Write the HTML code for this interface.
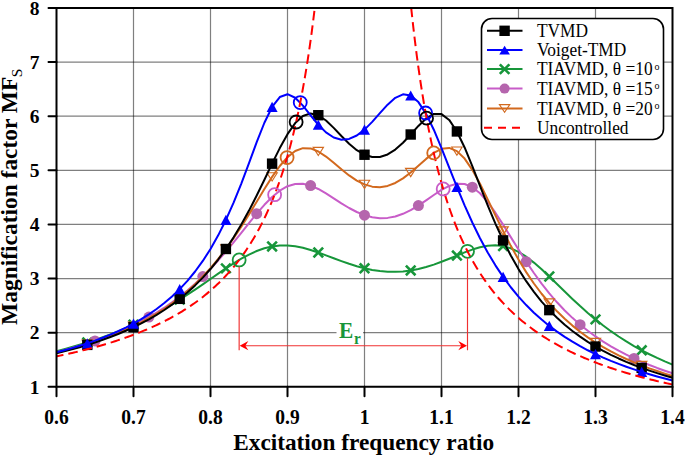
<!DOCTYPE html><html><head><meta charset="utf-8"><style>html,body{margin:0;padding:0;background:#fff;width:685px;height:456px;overflow:hidden}svg{display:block}text{font-family:"Liberation Serif",serif}</style></head><body>
<svg width="685" height="456" viewBox="0 0 685 456">
<path d="M133.50,8.00 V386.77 M210.50,8.00 V386.77 M287.50,8.00 V386.77 M364.50,8.00 V386.77 M441.50,8.00 V386.77 M518.50,8.00 V386.77 M595.50,8.00 V386.77" stroke="#000" stroke-opacity="0.5" stroke-width="1.2" fill="none"/>
<path d="M56.50,332.66 H672.50 M56.50,278.55 H672.50 M56.50,224.44 H672.50 M56.50,170.33 H672.50 M56.50,116.22 H672.50 M56.50,62.11 H672.50" stroke="#000" stroke-opacity="0.5" stroke-width="1.2" fill="none"/>
<defs><clipPath id="pc"><rect x="56.50" y="8.00" width="616.00" height="378.77"/></clipPath></defs>
<path d="M56.50,351.13 L64.20,349.13 L71.90,347.01 L79.60,344.77 L87.30,342.39 L95.00,339.86 L102.70,337.18 L110.40,334.34 L118.10,331.31 L125.80,328.10 L133.50,324.70 L141.20,321.08 L148.90,317.24 L156.60,313.18 L164.30,308.89 L172.00,304.38 L179.70,299.64 L187.40,294.70 L195.10,289.57 L202.80,284.31 L210.50,278.98 L218.20,273.64 L225.90,268.40 L233.60,263.37 L241.30,258.70 L249.00,254.54 L256.70,251.02 L264.40,248.28 L272.10,246.41 L279.80,245.46 L287.50,245.43 L295.20,246.24 L302.90,247.79 L310.60,249.93 L318.30,252.50 L326.00,255.33 L333.70,258.24 L341.40,261.11 L349.10,263.80 L356.80,266.22 L364.50,268.27 L372.20,269.90 L379.90,271.05 L387.60,271.70 L395.30,271.83 L403.00,271.41 L410.70,270.46 L418.40,268.98 L426.10,267.01 L433.80,264.59 L441.50,261.80 L449.20,258.74 L456.90,255.56 L464.60,252.43 L472.30,249.58 L480.00,247.26 L487.70,245.76 L495.40,245.31 L503.10,246.13 L510.80,248.32 L518.50,251.88 L526.20,256.71 L533.90,262.60 L541.60,269.29 L549.30,276.50 L557.00,283.98 L564.70,291.51 L572.40,298.91 L580.10,306.08 L587.80,312.92 L595.50,319.40 L603.20,325.48 L610.90,331.18 L618.60,336.48 L626.30,341.42 L634.00,346.02 L641.70,350.29 L649.40,354.25 L657.10,357.94 L664.80,361.38 L672.50,364.58" stroke="#17963a" fill="none" stroke-width="2" stroke-linejoin="round" clip-path="url(#pc)"/>
<path d="M82.50,337.59 L92.10,347.19 M82.50,347.19 L92.10,337.59" stroke="#17963a" stroke-width="2.6" fill="none"/>
<path d="M128.70,319.90 L138.30,329.50 M128.70,329.50 L138.30,319.90" stroke="#17963a" stroke-width="2.6" fill="none"/>
<path d="M174.90,294.84 L184.50,304.44 M174.90,304.44 L184.50,294.84" stroke="#17963a" stroke-width="2.6" fill="none"/>
<path d="M221.10,263.60 L230.70,273.20 M221.10,273.20 L230.70,263.60" stroke="#17963a" stroke-width="2.6" fill="none"/>
<path d="M267.30,241.61 L276.90,251.21 M267.30,251.21 L276.90,241.61" stroke="#17963a" stroke-width="2.6" fill="none"/>
<path d="M313.50,247.70 L323.10,257.30 M313.50,257.30 L323.10,247.70" stroke="#17963a" stroke-width="2.6" fill="none"/>
<path d="M359.70,263.47 L369.30,273.07 M359.70,273.07 L369.30,263.47" stroke="#17963a" stroke-width="2.6" fill="none"/>
<path d="M405.90,265.66 L415.50,275.26 M405.90,275.26 L415.50,265.66" stroke="#17963a" stroke-width="2.6" fill="none"/>
<path d="M452.10,250.76 L461.70,260.36 M452.10,260.36 L461.70,250.76" stroke="#17963a" stroke-width="2.6" fill="none"/>
<path d="M498.30,241.33 L507.90,250.93 M498.30,250.93 L507.90,241.33" stroke="#17963a" stroke-width="2.6" fill="none"/>
<path d="M544.50,271.70 L554.10,281.30 M544.50,281.30 L554.10,271.70" stroke="#17963a" stroke-width="2.6" fill="none"/>
<path d="M590.70,314.60 L600.30,324.20 M590.70,324.20 L600.30,314.60" stroke="#17963a" stroke-width="2.6" fill="none"/>
<path d="M636.90,345.49 L646.50,355.09 M636.90,355.09 L646.50,345.49" stroke="#17963a" stroke-width="2.6" fill="none"/>
<path d="M56.50,352.13 L64.20,350.15 L71.90,348.05 L79.60,345.82 L87.30,343.43 L95.00,340.89 L102.70,338.17 L110.40,335.26 L118.10,332.14 L125.80,328.79 L133.50,325.18 L141.20,321.30 L148.90,317.11 L156.60,312.59 L164.30,307.70 L172.00,302.41 L179.70,296.68 L187.40,290.49 L195.10,283.78 L202.80,276.55 L210.50,268.77 L218.20,260.45 L225.90,251.61 L233.60,242.34 L241.30,232.77 L249.00,223.11 L256.70,213.66 L264.40,204.80 L272.10,196.98 L279.80,190.66 L287.50,186.24 L295.20,183.95 L302.90,183.81 L310.60,185.62 L318.30,188.98 L326.00,193.39 L333.70,198.34 L341.40,203.35 L349.10,208.00 L356.80,212.01 L364.50,215.13 L372.20,217.21 L379.90,218.15 L387.60,217.89 L395.30,216.44 L403.00,213.82 L410.70,210.13 L418.40,205.55 L426.10,200.36 L433.80,194.97 L441.50,189.94 L449.20,185.96 L456.90,183.76 L464.60,184.03 L472.30,187.18 L480.00,193.28 L487.70,201.99 L495.40,212.69 L503.10,224.63 L510.80,237.12 L518.50,249.58 L526.20,261.63 L533.90,273.01 L541.60,283.59 L549.30,293.35 L557.00,302.28 L564.70,310.44 L572.40,317.87 L580.10,324.64 L587.80,330.81 L595.50,336.45 L603.20,341.61 L610.90,346.35 L618.60,350.69 L626.30,354.70 L634.00,358.40 L641.70,361.82 L649.40,364.99 L657.10,367.94 L664.80,370.69 L672.50,373.26" stroke="#c85cc8" fill="none" stroke-width="2" stroke-linejoin="round" clip-path="url(#pc)"/>
<circle cx="95.00" cy="340.89" r="5.50" fill="#b565ad"/>
<circle cx="148.90" cy="317.11" r="5.50" fill="#b565ad"/>
<circle cx="202.80" cy="276.55" r="5.50" fill="#b565ad"/>
<circle cx="256.70" cy="213.66" r="5.50" fill="#b565ad"/>
<circle cx="310.60" cy="185.62" r="5.50" fill="#b565ad"/>
<circle cx="364.50" cy="215.13" r="5.50" fill="#b565ad"/>
<circle cx="418.40" cy="205.55" r="5.50" fill="#b565ad"/>
<circle cx="472.30" cy="187.18" r="5.50" fill="#b565ad"/>
<circle cx="526.20" cy="261.63" r="5.50" fill="#b565ad"/>
<circle cx="580.10" cy="324.64" r="5.50" fill="#b565ad"/>
<circle cx="634.00" cy="358.40" r="5.50" fill="#b565ad"/>
<path d="M56.50,352.74 L64.20,350.81 L71.90,348.75 L79.60,346.55 L87.30,344.21 L95.00,341.72 L102.70,339.04 L110.40,336.18 L118.10,333.10 L125.80,329.79 L133.50,326.22 L141.20,322.36 L148.90,318.19 L156.60,313.66 L164.30,308.74 L172.00,303.38 L179.70,297.53 L187.40,291.14 L195.10,284.15 L202.80,276.50 L210.50,268.12 L218.20,258.97 L225.90,249.00 L233.60,238.21 L241.30,226.63 L249.00,214.39 L256.70,201.73 L264.40,189.04 L272.10,176.88 L279.80,165.98 L287.50,157.13 L295.20,151.04 L302.90,148.13 L310.60,148.42 L318.30,151.48 L326.00,156.57 L333.70,162.79 L341.40,169.31 L349.10,175.42 L356.80,180.57 L364.50,184.39 L372.20,186.63 L379.90,187.16 L387.60,185.93 L395.30,182.96 L403.00,178.40 L410.70,172.51 L418.40,165.77 L426.10,158.89 L433.80,152.84 L441.50,148.80 L449.20,147.95 L456.90,151.14 L464.60,158.59 L472.30,169.81 L480.00,183.80 L487.70,199.33 L495.40,215.34 L503.10,231.01 L510.80,245.85 L518.50,259.58 L526.20,272.13 L533.90,283.49 L541.60,293.75 L549.30,302.99 L557.00,311.31 L564.70,318.82 L572.40,325.61 L580.10,331.77 L587.80,337.37 L595.50,342.47 L603.20,347.14 L610.90,351.42 L618.60,355.35 L626.30,358.99 L634.00,362.35 L641.70,365.46 L649.40,368.36 L657.10,371.06 L664.80,373.58 L672.50,375.93" stroke="#d2691e" fill="none" stroke-width="2" stroke-linejoin="round" clip-path="url(#pc)"/>
<path d="M82.10,340.11 L92.50,340.11 L87.30,348.31 Z" fill="none" stroke="#d2691e" stroke-width="1.1"/>
<path d="M128.30,322.12 L138.70,322.12 L133.50,330.32 Z" fill="none" stroke="#d2691e" stroke-width="1.1"/>
<path d="M174.50,293.43 L184.90,293.43 L179.70,301.63 Z" fill="none" stroke="#d2691e" stroke-width="1.1"/>
<path d="M220.70,244.90 L231.10,244.90 L225.90,253.10 Z" fill="none" stroke="#d2691e" stroke-width="1.1"/>
<path d="M266.90,172.78 L277.30,172.78 L272.10,180.98 Z" fill="none" stroke="#d2691e" stroke-width="1.1"/>
<path d="M313.10,147.38 L323.50,147.38 L318.30,155.58 Z" fill="none" stroke="#d2691e" stroke-width="1.1"/>
<path d="M359.30,180.29 L369.70,180.29 L364.50,188.49 Z" fill="none" stroke="#d2691e" stroke-width="1.1"/>
<path d="M405.50,168.41 L415.90,168.41 L410.70,176.61 Z" fill="none" stroke="#d2691e" stroke-width="1.1"/>
<path d="M451.70,147.04 L462.10,147.04 L456.90,155.24 Z" fill="none" stroke="#d2691e" stroke-width="1.1"/>
<path d="M497.90,226.91 L508.30,226.91 L503.10,235.11 Z" fill="none" stroke="#d2691e" stroke-width="1.1"/>
<path d="M544.10,298.89 L554.50,298.89 L549.30,307.09 Z" fill="none" stroke="#d2691e" stroke-width="1.1"/>
<path d="M590.30,338.37 L600.70,338.37 L595.50,346.57 Z" fill="none" stroke="#d2691e" stroke-width="1.1"/>
<path d="M636.50,361.36 L646.90,361.36 L641.70,369.56 Z" fill="none" stroke="#d2691e" stroke-width="1.1"/>
<path d="M56.50,353.25 L64.20,351.35 L71.90,349.34 L79.60,347.19 L87.30,344.89 L95.00,342.44 L102.70,339.82 L110.40,337.01 L118.10,333.99 L125.80,330.74 L133.50,327.24 L141.20,323.44 L148.90,319.33 L156.60,314.86 L164.30,310.00 L172.00,304.68 L179.70,298.85 L187.40,292.45 L195.10,285.40 L202.80,277.62 L210.50,269.03 L218.20,259.51 L225.90,248.98 L233.60,237.35 L241.30,224.55 L249.00,210.60 L256.70,195.58 L264.40,179.77 L272.10,163.67 L279.80,148.10 L287.50,134.15 L295.20,123.08 L302.90,115.97 L310.60,113.42 L318.30,115.22 L326.00,120.48 L333.70,127.86 L341.40,136.00 L349.10,143.73 L356.80,150.17 L364.50,154.73 L372.20,157.06 L379.90,156.97 L387.60,154.43 L395.30,149.57 L403.00,142.72 L410.70,134.50 L418.40,125.93 L426.10,118.49 L433.80,113.96 L441.50,114.08 L449.20,119.93 L456.90,131.45 L464.60,147.45 L472.30,166.18 L480.00,185.90 L487.70,205.32 L495.40,223.61 L503.10,240.39 L510.80,255.53 L518.50,269.09 L526.20,281.18 L533.90,291.95 L541.60,301.55 L549.30,310.13 L557.00,317.83 L564.70,324.76 L572.40,331.01 L580.10,336.68 L587.80,341.84 L595.50,346.54 L603.20,350.86 L610.90,354.82 L618.60,358.47 L626.30,361.84 L634.00,364.97 L641.70,367.88 L649.40,370.59 L657.10,373.12 L664.80,375.48 L672.50,377.70" stroke="#000" fill="none" stroke-width="2" stroke-linejoin="round" clip-path="url(#pc)"/>
<rect x="82.10" y="339.69" width="10.40" height="10.40" fill="#000"/>
<rect x="128.30" y="322.04" width="10.40" height="10.40" fill="#000"/>
<rect x="174.50" y="293.65" width="10.40" height="10.40" fill="#000"/>
<rect x="220.70" y="243.78" width="10.40" height="10.40" fill="#000"/>
<rect x="266.90" y="158.47" width="10.40" height="10.40" fill="#000"/>
<rect x="313.10" y="110.02" width="10.40" height="10.40" fill="#000"/>
<rect x="359.30" y="149.53" width="10.40" height="10.40" fill="#000"/>
<rect x="405.50" y="129.30" width="10.40" height="10.40" fill="#000"/>
<rect x="451.70" y="126.25" width="10.40" height="10.40" fill="#000"/>
<rect x="497.90" y="235.19" width="10.40" height="10.40" fill="#000"/>
<rect x="544.10" y="304.93" width="10.40" height="10.40" fill="#000"/>
<rect x="590.30" y="341.34" width="10.40" height="10.40" fill="#000"/>
<rect x="636.50" y="362.68" width="10.40" height="10.40" fill="#000"/>
<path d="M56.50,352.32 L64.20,350.30 L71.90,348.14 L79.60,345.82 L87.30,343.33 L95.00,340.66 L102.70,337.77 L110.40,334.65 L118.10,331.27 L125.80,327.59 L133.50,323.57 L141.20,319.17 L148.90,314.34 L156.60,309.00 L164.30,303.08 L172.00,296.49 L179.70,289.12 L187.40,280.85 L195.10,271.51 L202.80,260.95 L210.50,248.96 L218.20,235.35 L225.90,219.94 L233.60,202.64 L241.30,183.53 L249.00,163.06 L256.70,142.22 L264.40,122.75 L272.10,106.95 L279.80,97.06 L287.50,94.20 L295.20,97.74 L302.90,105.63 L310.60,115.35 L318.30,124.75 L326.00,132.40 L333.70,137.49 L341.40,139.69 L349.10,138.96 L356.80,135.48 L364.50,129.59 L372.20,121.87 L379.90,113.17 L387.60,104.66 L395.30,97.83 L403.00,94.31 L410.70,95.50 L418.40,102.10 L426.10,113.87 L433.80,129.71 L441.50,148.09 L449.20,167.54 L456.90,186.88 L464.60,205.34 L472.30,222.53 L480.00,238.25 L487.70,252.49 L495.40,265.33 L503.10,276.88 L510.80,287.26 L518.50,296.61 L526.20,305.05 L533.90,312.68 L541.60,319.60 L549.30,325.90 L557.00,331.64 L564.70,336.90 L572.40,341.72 L580.10,346.16 L587.80,350.26 L595.50,354.05 L603.20,357.57 L610.90,360.84 L618.60,363.89 L626.30,366.73 L634.00,369.40 L641.70,371.90 L649.40,374.24 L657.10,376.45 L664.80,378.53 L672.50,380.49" stroke="#0000ff" fill="none" stroke-width="2" stroke-linejoin="round" clip-path="url(#pc)"/>
<path d="M87.30,338.23 L92.80,348.43 L81.80,348.43 Z" fill="#0000ff"/>
<path d="M133.50,318.47 L139.00,328.67 L128.00,328.67 Z" fill="#0000ff"/>
<path d="M179.70,284.02 L185.20,294.22 L174.20,294.22 Z" fill="#0000ff"/>
<path d="M225.90,214.84 L231.40,225.04 L220.40,225.04 Z" fill="#0000ff"/>
<path d="M272.10,101.85 L277.60,112.05 L266.60,112.05 Z" fill="#0000ff"/>
<path d="M318.30,119.65 L323.80,129.85 L312.80,129.85 Z" fill="#0000ff"/>
<path d="M364.50,124.49 L370.00,134.69 L359.00,134.69 Z" fill="#0000ff"/>
<path d="M410.70,90.40 L416.20,100.60 L405.20,100.60 Z" fill="#0000ff"/>
<path d="M456.90,181.78 L462.40,191.98 L451.40,191.98 Z" fill="#0000ff"/>
<path d="M503.10,271.78 L508.60,281.98 L497.60,281.98 Z" fill="#0000ff"/>
<path d="M549.30,320.80 L554.80,331.00 L543.80,331.00 Z" fill="#0000ff"/>
<path d="M595.50,348.95 L601.00,359.15 L590.00,359.15 Z" fill="#0000ff"/>
<path d="M641.70,366.80 L647.20,377.00 L636.20,377.00 Z" fill="#0000ff"/>
<path d="M56.50,356.33 L58.25,355.97 L59.99,355.61 L61.74,355.23 L63.48,354.86 L65.23,354.48 L66.97,354.09 L68.72,353.70 L70.47,353.31 L72.21,352.91 L73.96,352.51 L75.70,352.10 L77.45,351.68 L79.19,351.26 L80.94,350.83 L82.68,350.40 L84.43,349.96 L86.18,349.52 L87.92,349.07 L89.67,348.61 L91.41,348.15 L93.16,347.68 L94.90,347.21 L96.65,346.73 L98.40,346.24 L100.14,345.75 L101.89,345.24 L103.63,344.74 L105.38,344.22 L107.12,343.70 L108.87,343.17 L110.62,342.63 L112.36,342.08 L114.11,341.53 L115.85,340.97 L117.60,340.39 L119.34,339.82 L121.09,339.23 L122.84,338.63 L124.58,338.03 L126.33,337.41 L128.07,336.79 L129.82,336.15 L131.56,335.51 L133.31,334.85 L135.05,334.19 L136.80,333.51 L138.55,332.83 L140.29,332.13 L142.04,331.42 L143.78,330.70 L145.53,329.97 L147.27,329.23 L149.02,328.47 L150.77,327.70 L152.51,326.92 L154.26,326.13 L156.00,325.32 L157.75,324.49 L159.49,323.66 L161.24,322.80 L162.99,321.94 L164.73,321.05 L166.48,320.15 L168.22,319.24 L169.97,318.31 L171.71,317.36 L173.46,316.39 L175.21,315.40 L176.95,314.40 L178.70,313.38 L180.44,312.33 L182.19,311.27 L183.93,310.18 L185.68,309.08 L187.42,307.95 L189.17,306.80 L190.92,305.62 L192.66,304.42 L194.41,303.20 L196.15,301.95 L197.90,300.67 L199.64,299.36 L201.39,298.03 L203.14,296.67 L204.88,295.27 L206.63,293.85 L208.37,292.39 L210.12,290.90 L211.86,289.38 L213.61,287.82 L215.36,286.22 L217.10,284.59 L218.85,282.91 L220.59,281.20 L222.34,279.44 L224.08,277.63 L225.83,275.78 L227.58,273.89 L229.32,271.94 L231.07,269.94 L232.81,267.89 L234.56,265.79 L236.30,263.62 L238.05,261.40 L239.79,259.11 L241.54,256.75 L243.29,254.33 L245.03,251.84 L246.78,249.27 L248.52,246.63 L250.27,243.90 L252.01,241.09 L253.76,238.18 L255.51,235.19 L257.25,232.10 L259.00,228.90 L260.74,225.60 L262.49,222.18 L264.23,218.64 L265.98,214.98 L267.73,211.18 L269.47,207.24 L271.22,203.16 L272.96,198.92 L274.71,194.51 L276.45,189.93 L278.20,185.16 L279.94,180.19 L281.69,175.01 L283.44,169.61 L285.18,163.97 L286.93,158.08 L288.67,151.92 L290.42,145.46 L292.16,138.69 L293.91,131.58 L295.66,124.12 L297.40,116.26 L299.15,107.99 L300.89,99.25 L302.64,90.03 L304.38,80.27 L306.13,69.92 L307.88,58.93 L309.62,47.25 L311.37,34.79 L313.11,21.49 L314.86,7.25 L316.60,-8.03 L318.35,-24.47" stroke="#ff0000" stroke-width="2" fill="none" stroke-dasharray="9.6,5" stroke-dashoffset="2.50" clip-path="url(#pc)"/>
<path d="M408.04,-24.47 L409.80,-5.86 L411.56,11.36 L413.33,27.33 L415.09,42.18 L416.85,56.03 L418.62,68.99 L420.38,81.12 L422.14,92.51 L423.90,103.22 L425.67,113.31 L427.43,122.84 L429.19,131.85 L430.96,140.38 L432.72,148.46 L434.48,156.14 L436.25,163.44 L438.01,170.39 L439.77,177.02 L441.54,183.34 L443.30,189.37 L445.06,195.15 L446.82,200.67 L448.59,205.96 L450.35,211.04 L452.11,215.90 L453.88,220.58 L455.64,225.08 L457.40,229.40 L459.17,233.56 L460.93,237.57 L462.69,241.44 L464.46,245.17 L466.22,248.77 L467.98,252.24 L469.74,255.60 L471.51,258.85 L473.27,261.99 L475.03,265.03 L476.80,267.98 L478.56,270.83 L480.32,273.60 L482.09,276.28 L483.85,278.89 L485.61,281.41 L487.38,283.87 L489.14,286.25 L490.90,288.57 L492.66,290.82 L494.43,293.02 L496.19,295.15 L497.95,297.23 L499.72,299.25 L501.48,301.22 L503.24,303.14 L505.01,305.01 L506.77,306.83 L508.53,308.61 L510.30,310.35 L512.06,312.04 L513.82,313.70 L515.59,315.31 L517.35,316.89 L519.11,318.43 L520.87,319.94 L522.64,321.41 L524.40,322.85 L526.16,324.26 L527.93,325.64 L529.69,326.99 L531.45,328.30 L533.22,329.60 L534.98,330.86 L536.74,332.10 L538.51,333.31 L540.27,334.50 L542.03,335.66 L543.79,336.81 L545.56,337.93 L547.32,339.02 L549.08,340.10 L550.85,341.15 L552.61,342.19 L554.37,343.21 L556.14,344.20 L557.90,345.18 L559.66,346.14 L561.43,347.09 L563.19,348.01 L564.95,348.92 L566.71,349.82 L568.48,350.69 L570.24,351.56 L572.00,352.41 L573.77,353.24 L575.53,354.06 L577.29,354.87 L579.06,355.66 L580.82,356.44 L582.58,357.20 L584.35,357.96 L586.11,358.70 L587.87,359.43 L589.63,360.15 L591.40,360.86 L593.16,361.55 L594.92,362.24 L596.69,362.91 L598.45,363.58 L600.21,364.23 L601.98,364.88 L603.74,365.51 L605.50,366.14 L607.27,366.75 L609.03,367.36 L610.79,367.96 L612.55,368.55 L614.32,369.13 L616.08,369.70 L617.84,370.27 L619.61,370.82 L621.37,371.37 L623.13,371.91 L624.90,372.45 L626.66,372.98 L628.42,373.49 L630.19,374.01 L631.95,374.51 L633.71,375.01 L635.48,375.50 L637.24,375.99 L639.00,376.47 L640.76,376.94 L642.53,377.41 L644.29,377.87 L646.05,378.33 L647.82,378.78 L649.58,379.22 L651.34,379.66 L653.11,380.09 L654.87,380.52 L656.63,380.94 L658.40,381.36 L660.16,381.77 L661.92,382.17 L663.68,382.58 L665.45,382.97 L667.21,383.37 L668.97,383.75 L670.74,384.14 L672.50,384.52" stroke="#ff0000" stroke-width="2" fill="none" stroke-dasharray="9.6,5" stroke-dashoffset="11.60" clip-path="url(#pc)"/>
<circle cx="300.24" cy="102.57" r="6.50" fill="none" stroke="#0000ff" stroke-width="1.8"/>
<circle cx="425.61" cy="112.98" r="6.50" fill="none" stroke="#0000ff" stroke-width="1.8"/>
<circle cx="296.14" cy="121.98" r="6.50" fill="none" stroke="#000" stroke-width="1.8"/>
<circle cx="426.55" cy="118.13" r="6.50" fill="none" stroke="#000" stroke-width="1.8"/>
<circle cx="287.08" cy="157.55" r="6.50" fill="none" stroke="#d2691e" stroke-width="1.8"/>
<circle cx="433.73" cy="152.89" r="6.50" fill="none" stroke="#d2691e" stroke-width="1.8"/>
<circle cx="274.63" cy="194.72" r="6.50" fill="none" stroke="#c85cc8" stroke-width="1.8"/>
<circle cx="443.18" cy="188.96" r="6.50" fill="none" stroke="#c85cc8" stroke-width="1.8"/>
<circle cx="239.15" cy="259.97" r="6.50" fill="none" stroke="#17963a" stroke-width="1.8"/>
<circle cx="467.50" cy="251.31" r="6.50" fill="none" stroke="#17963a" stroke-width="1.8"/>
<path d="M239.15,266.47 V350.3 M467.50,257.81 V350.3" stroke="#f03030" stroke-width="1.15" fill="none"/>
<path d="M244.15,345.70 H462.50" stroke="#f03030" stroke-width="1.15"/>
<path d="M239.65,345.70 l8.7,-4.6 l-3,4.6 l3,4.6 Z" fill="#ff0000"/>
<path d="M467.00,345.70 l-8.7,-4.6 l3,4.6 l-3,4.6 Z" fill="#ff0000"/>
<rect x="336.5" y="320" width="26.5" height="25" fill="#fff"/>
<text transform="translate(339.1,338.4) scale(0.9,1)" font-size="23.8" font-weight="bold" fill="#17963a">E<tspan font-size="17" dx="0.8" dy="5.2">r</tspan></text>
<path d="M56.50,8.00 H672.50 V386.77 H56.50 Z" stroke="#000" stroke-width="2" fill="none"/>
<path d="M48.50,386.77 H56.50 M48.50,332.66 H56.50 M48.50,278.55 H56.50 M48.50,224.44 H56.50 M48.50,170.33 H56.50 M48.50,116.22 H56.50 M48.50,62.11 H56.50 M48.50,8.00 H56.50 M56.50,386.77 V396.27 M133.50,386.77 V396.27 M210.50,386.77 V396.27 M287.50,386.77 V396.27 M364.50,386.77 V396.27 M441.50,386.77 V396.27 M518.50,386.77 V396.27 M595.50,386.77 V396.27 M672.50,386.77 V396.27" stroke="#000" stroke-width="2" stroke-linecap="round" fill="none"/>
<text x="39.5" y="393.57" font-size="19.5" font-weight="bold" text-anchor="end">1</text>
<text x="39.5" y="339.46" font-size="19.5" font-weight="bold" text-anchor="end">2</text>
<text x="39.5" y="285.35" font-size="19.5" font-weight="bold" text-anchor="end">3</text>
<text x="39.5" y="231.24" font-size="19.5" font-weight="bold" text-anchor="end">4</text>
<text x="39.5" y="177.13" font-size="19.5" font-weight="bold" text-anchor="end">5</text>
<text x="39.5" y="123.02" font-size="19.5" font-weight="bold" text-anchor="end">6</text>
<text x="39.5" y="68.91" font-size="19.5" font-weight="bold" text-anchor="end">7</text>
<text x="39.5" y="14.80" font-size="19.5" font-weight="bold" text-anchor="end">8</text>
<text transform="translate(56.50,424.4) scale(1,1.06)" font-size="19.5" font-weight="bold" text-anchor="middle">0.6</text>
<text transform="translate(133.50,424.4) scale(1,1.06)" font-size="19.5" font-weight="bold" text-anchor="middle">0.7</text>
<text transform="translate(210.50,424.4) scale(1,1.06)" font-size="19.5" font-weight="bold" text-anchor="middle">0.8</text>
<text transform="translate(287.50,424.4) scale(1,1.06)" font-size="19.5" font-weight="bold" text-anchor="middle">0.9</text>
<text transform="translate(364.50,424.4) scale(1,1.06)" font-size="19.5" font-weight="bold" text-anchor="middle">1</text>
<text transform="translate(441.50,424.4) scale(1,1.06)" font-size="19.5" font-weight="bold" text-anchor="middle">1.1</text>
<text transform="translate(518.50,424.4) scale(1,1.06)" font-size="19.5" font-weight="bold" text-anchor="middle">1.2</text>
<text transform="translate(595.50,424.4) scale(1,1.06)" font-size="19.5" font-weight="bold" text-anchor="middle">1.3</text>
<text transform="translate(672.50,424.4) scale(1,1.06)" font-size="19.5" font-weight="bold" text-anchor="middle">1.4</text>
<text x="363.7" y="449.9" font-size="23.3" font-weight="bold" text-anchor="middle">Excitation frequency ratio</text>
<text transform="translate(17.2,324.9) rotate(-90)" font-size="23.45" font-weight="bold">Magnification factor MF<tspan font-size="15.5" font-weight="normal" dx="-0.6" dy="4.4">S</tspan></text>
<rect x="481.5" y="18.5" width="182" height="121" rx="10.5" ry="10.5" fill="#fff" stroke="#000" stroke-width="1.6"/>
<path d="M487.00,30.80 H522.50" stroke="#000" stroke-width="2"/>
<rect x="499.40" y="25.60" width="10.40" height="10.40" fill="#000"/>
<text transform="translate(537,37.10) scale(1,1.08)" font-size="17.35" fill="#000">TVMD</text>
<path d="M487.00,50.10 H522.50" stroke="#0000ff" stroke-width="2"/>
<path d="M504.60,45.80 L509.90,54.40 L499.30,54.40 Z" fill="#0000ff"/>
<text transform="translate(537,56.40) scale(1,1.08)" font-size="17.35" fill="#000">Voiget-TMD</text>
<path d="M487.00,69.10 H522.50" stroke="#17963a" stroke-width="2"/>
<path d="M499.80,64.30 L509.40,73.90 M499.80,73.90 L509.40,64.30" stroke="#17963a" stroke-width="2.6" fill="none"/>
<text transform="translate(537,75.40) scale(1,1.08)" font-size="17.35" fill="#000">TIAVMD, θ =10</text>
<text transform="translate(654.6,69.70) scale(1,1.1)" font-size="10" fill="#000">o</text>
<path d="M487.00,88.60 H522.50" stroke="#c85cc8" stroke-width="2"/>
<circle cx="504.60" cy="88.60" r="5.00" fill="#b565ad"/>
<text transform="translate(537,94.90) scale(1,1.08)" font-size="17.35" fill="#000">TIAVMD, θ =15</text>
<text transform="translate(654.6,89.20) scale(1,1.1)" font-size="10" fill="#000">o</text>
<path d="M487.00,108.40 H522.50" stroke="#d2691e" stroke-width="2"/>
<path d="M499.40,104.60 L509.80,104.60 L504.60,112.20 Z" fill="none" stroke="#d2691e" stroke-width="1.1"/>
<text transform="translate(537,114.70) scale(1,1.08)" font-size="17.35" fill="#000">TIAVMD, θ =20</text>
<text transform="translate(654.6,109.00) scale(1,1.1)" font-size="10" fill="#000">o</text>
<path d="M484,127.80 H522" stroke="#ff0000" stroke-width="2" stroke-dasharray="8,6"/>
<text transform="translate(537,134.10) scale(1,1.08)" font-size="17.35" fill="#000">Uncontrolled</text>
</svg></body></html>
